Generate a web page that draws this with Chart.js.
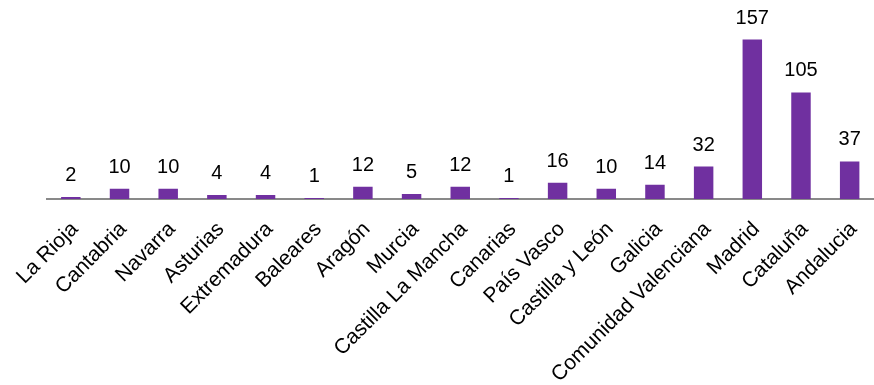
<!DOCTYPE html>
<html>
<head>
  <title>Regiones</title>
  <script src="https://cdn.jsdelivr.net/npm/chart.js@4.4.0/dist/chart.umd.min.js"></script>
  <style>
    html, body { margin: 0; padding: 0; background: #fff; }
    #wrap { width: 874px; height: 385px; }
  </style>
</head>
<body>
  <div id="wrap"><canvas id="chart"></canvas></div>
  <script>
    // categories and values
    var regiones = ["La Rioja", "Cantabria", "Navarra", "Asturias", "Extremadura", "Baleares",
      "Aragón", "Murcia", "Castilla La Mancha", "Canarias", "País Vasco", "Castilla y León",
      "Galicia", "Comunidad Valenciana", "Madrid", "Cataluña", "Andalucia"];
    var valores = [2, 10, 10, 4, 4, 1, 12, 5, 12, 1, 16, 10, 14, 32, 157, 105, 37];

    var font = "Liberation Sans, Arial, sans-serif";

    // draws the number above each bar
    var valueLabels = {
      id: "valueLabels",
      afterDatasetsDraw: function(chart) {
        var ctx = chart.ctx;
        var meta = chart.getDatasetMeta(0);
        ctx.save();
        ctx.font = "20px " + font;
        ctx.fillStyle = "#000";
        ctx.textAlign = "center";
        ctx.textBaseline = "alphabetic";
        meta.data.forEach(function(bar, i) {
          ctx.fillText(valores[i], bar.x, bar.y - 16);
        });
        ctx.restore();
      }
    };

    var ctx = document.getElementById("chart").getContext("2d");
    var chart = new Chart(ctx, {
      type: "bar",
      data: {
        labels: regiones,
        datasets: [{
          data: valores,
          backgroundColor: "#7030A0",
          barPercentage: 0.4,
          categoryPercentage: 1
        }]
      },
      options: {
        responsive: true,
        maintainAspectRatio: false,
        animation: false,
        layout: { padding: { left: 46.5, right: -5, top: 0, bottom: 0 } },
        plugins: {
          legend: { display: false },
          tooltip: { enabled: false }
        },
        scales: {
          x: {
            grid: { display: false, drawTicks: false },
            border: { display: true, color: "#898989", width: 2 },
            ticks: {
              color: "#000",
              font: { family: font, size: 21 },
              minRotation: 45,
              maxRotation: 45,
              padding: 18,
              labelOffset: 4,
              autoSkip: false
            },
            afterFit: function(scale) {
              scale.paddingLeft = 0;
              scale.paddingRight = 0;
              scale.height = 186;
            }
          },
          y: {
            display: false,
            min: 0,
            max: 196
          }
        }
      },
      plugins: [valueLabels]
    });
  </script>
</body>
</html>
